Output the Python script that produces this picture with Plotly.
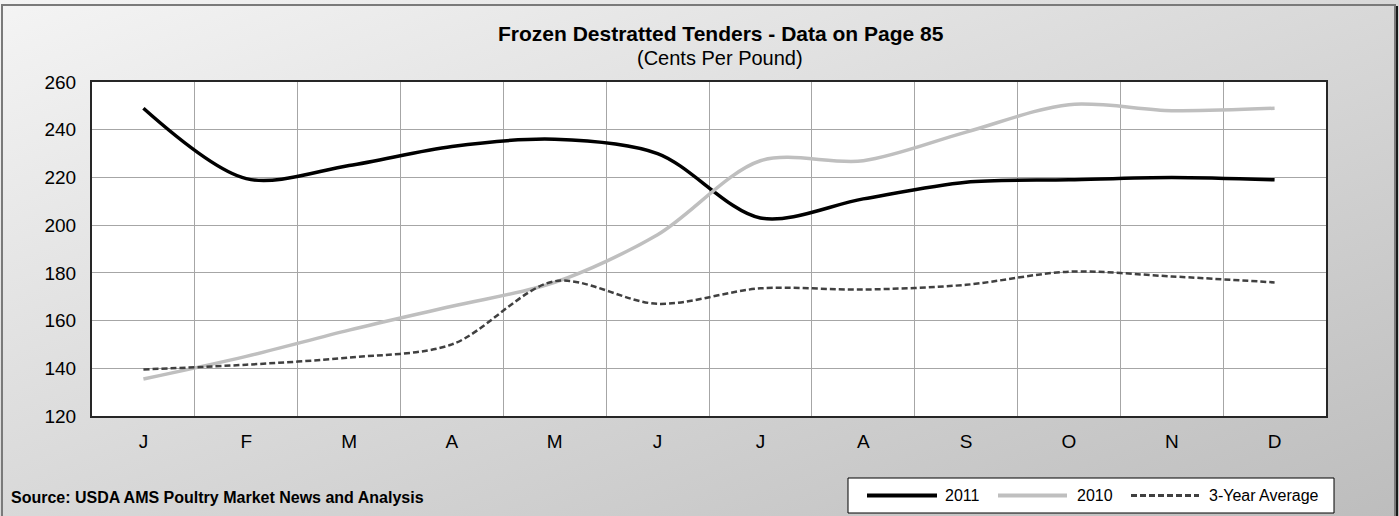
import base64
import plotly.graph_objects as go

# Monthly prices, cents per pound
months = ["J", "F", "M", "A", "M", "J", "J", "A", "S", "O", "N", "D"]
y2011 = [249, 219.5, 225, 233, 236, 230, 203, 211, 218, 219, 220, 219]
y2010 = [135.5, 145, 156, 166, 176, 196, 227, 227, 239, 250.5, 248, 249]
avg3 = [139.5, 141.5, 144.5, 150, 176.5, 167, 173.5, 173, 175, 180.5, 178.5, 176]

W, H = 1399, 516
ML, MR, MT, MB = 92, 73, 82, 100
PW, PH = W - ML - MR, H - MT - MB

FONT = "Liberation Sans, Arial, sans-serif"
x = list(range(len(months)))

series = [
    ("2011", y2011, dict(color="#000000", width=3.5)),
    ("2010", y2010, dict(color="#bfbfbf", width=3.5)),
    ("3-Year Average", avg3, dict(color="#404040", width=2.5, dash="6px,3px")),
]

fig = go.Figure()
for name, vals, ln in series:
    fig.add_trace(go.Scatter(x=x, y=vals, name=name, mode="lines",
                             line=dict(ln, shape="spline", smoothing=0.9)))

# diagonal grey gradient for the chart background
svg = (
    '<svg xmlns="http://www.w3.org/2000/svg" width="100" height="100" preserveAspectRatio="none">'
    '<defs><linearGradient id="g" x1="0" y1="0" x2="1" y2="1">'
    '<stop offset="0" stop-color="#f4f4f4"/><stop offset="1" stop-color="#bdbdbd"/>'
    '</linearGradient></defs><rect width="100" height="100" fill="url(#g)"/></svg>'
)
bg_uri = "data:image/svg+xml;base64," + base64.b64encode(svg.encode()).decode()

fx = lambda px: (px - ML) / PW
fy = lambda py: 1 - (py - MT) / PH

shapes = [
    dict(type="rect", xref="paper", yref="paper", x0=0, x1=1, y0=0, y1=1,
         fillcolor="white", line=dict(width=0), layer="below"),
    dict(type="rect", xref="paper", yref="paper",
         x0=fx(2), x1=fx(1395), y0=fy(5), y1=fy(530),
         line=dict(color="#7a7a7a", width=2), layer="below"),
    dict(type="line", xref="paper", yref="paper",
         x0=fx(1397), x1=fx(1397), y0=fy(6), y1=fy(530),
         line=dict(color="#1a1a1a", width=2), layer="below"),
    # legend box
    dict(type="rect", xref="paper", yref="paper",
         x0=fx(848), x1=fx(1334), y0=fy(478), y1=fy(513),
         fillcolor="white", line=dict(color="#000000", width=1)),
]
annotations = [
    dict(text="<b>Frozen Destratted Tenders - Data on Page 85</b>", xref="paper", yref="paper",
         x=fx(721), y=fy(33), xanchor="center", yanchor="middle", showarrow=False,
         font=dict(size=21)),
    dict(text="(Cents Per Pound)", xref="paper", yref="paper",
         x=fx(720), y=fy(58), xanchor="center", yanchor="middle", showarrow=False,
         font=dict(size=20)),
    dict(text="<b>Source: USDA AMS Poultry Market News and Analysis</b>", xref="paper", yref="paper",
         x=fx(9), y=fy(497), xanchor="left", yanchor="middle", showarrow=False,
         font=dict(size=16)),
]

# legend entries: sample line start/end and label start (pixels)
legend_pos = [(867, 937, 943), (998, 1067, 1075), (1131, 1199, 1207)]
for (name, _, ln), (s0, s1, tx) in zip(series, legend_pos):
    shapes.append(dict(type="line", xref="paper", yref="paper",
                       x0=fx(s0), x1=fx(s1), y0=fy(495.5), y1=fy(495.5),
                       line=dict(color=ln["color"], width=ln["width"] + 0.5,
                                 dash=ln.get("dash", "solid"))))
    annotations.append(dict(text=name, xref="paper", yref="paper", x=fx(tx), y=fy(495.5),
                            xanchor="left", yanchor="middle", showarrow=False,
                            font=dict(size=16)))

fig.update_layout(
    width=W, height=H,
    margin=dict(l=ML, r=MR, t=MT, b=MB),
    paper_bgcolor="#e0e0e0",
    plot_bgcolor="white",
    font=dict(family=FONT, color="#000000"),
    images=[dict(source=bg_uri, xref="paper", yref="paper",
                 x=fx(0), y=fy(0), sizex=W / PW, sizey=H / PH,
                 xanchor="left", yanchor="top", sizing="stretch", layer="below")],
    shapes=shapes,
    annotations=annotations,
    showlegend=False,
    xaxis=dict(range=[-0.5, 11.5], tickvals=x, ticktext=months, showgrid=False,
               ticks="", ticklabelstandoff=7, tickfont=dict(size=19),
               showline=True, linecolor="#262626", linewidth=2, mirror=True, zeroline=False,
               minor=dict(tickvals=[i + 0.5 for i in range(11)], showgrid=True,
                          gridcolor="#a6a6a6", gridwidth=1, ticks="")),
    yaxis=dict(range=[120, 260], dtick=20, showgrid=True, gridcolor="#a6a6a6", gridwidth=1,
               ticks="", ticklabelstandoff=10, tickfont=dict(size=19),
               showline=True, linecolor="#262626", linewidth=2, mirror=True, zeroline=False),
)

fig.write_html("out.html")
